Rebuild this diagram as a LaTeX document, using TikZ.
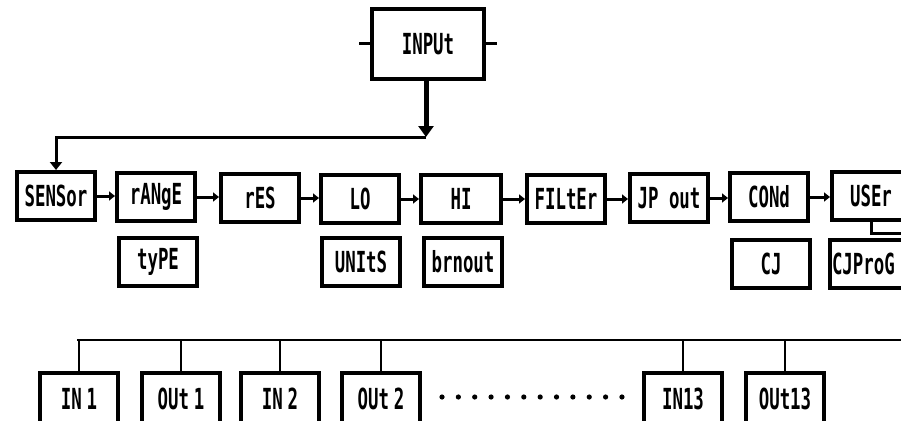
\documentclass[tikz,border=0pt]{standalone}
\usepackage{fontspec}
\newfontfamily\lcdfont[FakeStretch=0.6]{DejaVu Sans Mono Bold}
\usetikzlibrary{arrows.meta}
\begin{document}
\begin{tikzpicture}[x=1pt,y=-1pt,
  box/.style={draw, line width=4pt, minimum width=78pt, minimum height=48pt, inner sep=0pt,
    font=\lcdfont\fontsize{29}{29}\selectfont},
  lowbox/.style={box, minimum height=52pt},
  link/.style={line width=3pt, -{Triangle[length=6pt,width=9pt]}},
  bus/.style={line width=2pt}]
\useasboundingbox (0,0) rectangle (901,420);
\clip (0,0) rectangle (901,420);
% top
\node[box, minimum width=112pt, minimum height=70pt] (input) at (428,44) {INPUt};
\coordinate (tl) at (359,44);
\coordinate (tr) at (497,44);
\draw[line width=3pt] (input.west) -- (tl);
\draw[line width=3pt] (input.east) -- (tr);
% row 1
\node[box] (sensor) at (56,196) {SENSor};
\node[box] (range)  at (156,197) {rANgE};
\node[box] (res)    at (260,198) {rES};
\node[box] (lo)     at (360,199) {LO};
\node[box, minimum width=80pt] (hi) at (461,199) {HI};
\node[box] (filter) at (566,199) {FILtEr};
\node[box] (jpout)  at (669,198) {JP out};
\node[box] (cond)   at (769,197) {CONd};
\node[box] (user)   at (871,196) {USEr};
% row 2
\node[box] (type)   at (158,262) {tyPE};
\node[box] (units)  at (361,262) {UNItS};
\node[box] (brnout) at (463,262) {brnout};
\node[box] (cj)     at (771,264) {CJ};
\node[box, text width=74pt, align=left] (cjprog) at (869,264) {CJProG};
% input feed
\coordinate (elbow) at (426,137);
\draw[line width=5pt, -{Triangle[length=11pt,width=15pt]}] (input.south -| elbow) -- (elbow);
\draw[line width=3pt, -{Triangle[length=8pt,width=12pt]}] (elbow) -| (sensor.north);
% chain
\draw[link] (sensor.east) -- (sensor.east -| range.west);
\draw[link] (range.east) -- (range.east -| res.west);
\draw[link] (res.east) -- (res.east -| lo.west);
\draw[link] (lo.east) -- (lo.east -| hi.west);
\draw[link] (hi.east) -- (hi.east -| filter.west);
\draw[link] (filter.east) -- (filter.east -| jpout.west);
\draw[link] (jpout.east) -- (jpout.east -| cond.west);
\draw[link] (cond.east) -- (cond.east -| user.west);
% user loop
\coordinate (ur) at (905,233);
\draw[line width=3pt] (user.south) |- (ur);
% bottom row
\node[lowbox] (in1)  at (79,399) {IN\,1};
\node[lowbox] (out1) at (181,399) {OUt\,1};
\node[lowbox] (in2)  at (280,399) {IN\,2};
\node[lowbox] (out2) at (381,399) {OUt\,2};
\node[lowbox] (in13) at (683,399) {IN13};
\node[lowbox] (out13) at (785,399) {OUt13};
\coordinate (busl) at (77,340);
\coordinate (busr) at (905,340);
\draw[bus] (busl) -- (busr);
\foreach \n in {in1,out1,in2,out2,in13,out13}
  \draw[bus] (\n.north) -- (\n.north |- busl);
\foreach \i in {0,...,11}
  \fill (442+16.36*\i,397) circle (2.6);
\end{tikzpicture}
\end{document}
